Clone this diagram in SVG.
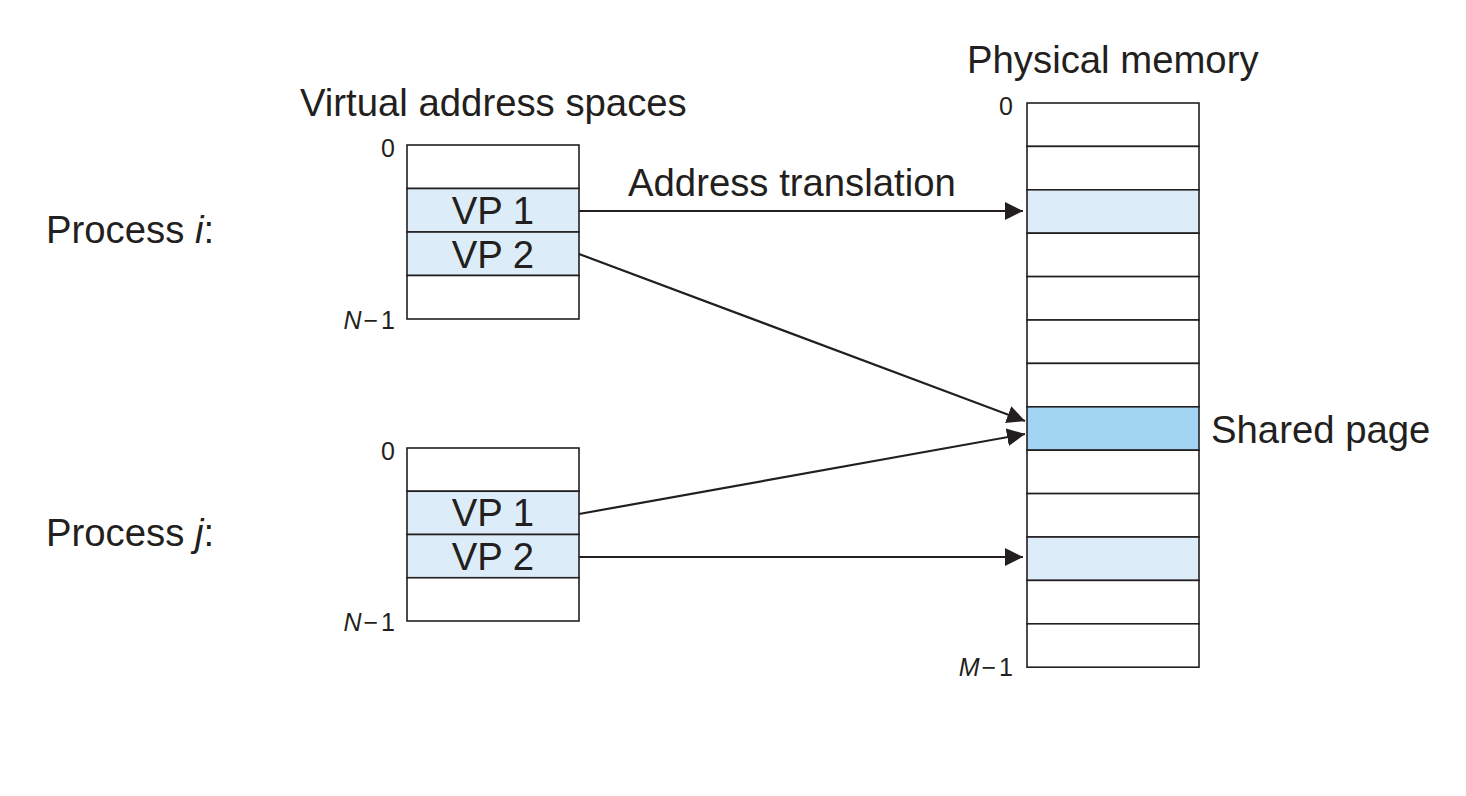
<svg xmlns="http://www.w3.org/2000/svg" width="1466" height="796" viewBox="0 0 1466 796">
<style>
text{font-family:"Liberation Sans",Arial,sans-serif;fill:#231f20}
.big{font-size:38.3px}
.sm{font-size:25px}
.cell{fill:#ffffff;stroke:#231f20;stroke-width:1.6}
.lb{fill:#dcedf9}
.sh{fill:#a2d5f2}
.arr{stroke:#231f20;stroke-width:2.2;fill:none;marker-end:url(#ah)}
</style>
<defs>
<marker id="ah" markerUnits="userSpaceOnUse" markerWidth="20" markerHeight="20" refX="18" refY="9" orient="auto">
<path d="M0,0 L18,9 L0,18 Z" fill="#231f20"/>
</marker>
</defs>
<rect width="1466" height="796" fill="#ffffff"/>
<text class="big" x="300" y="116">Virtual address spaces</text>
<text class="big" x="967" y="73">Physical memory</text>
<text class="big" x="628" y="196">Address translation</text>
<text class="big" x="1211" y="443">Shared page</text>
<text class="big" x="46" y="243">Process <tspan font-style="italic">i</tspan>:</text>
<text class="big" x="46" y="546">Process <tspan font-style="italic">j</tspan>:</text>

<g id="vas-i">
<rect class="cell" x="407" y="145" width="172" height="43.5"/>
<rect class="cell lb" x="407" y="188.5" width="172" height="43.5"/>
<rect class="cell lb" x="407" y="232" width="172" height="43.5"/>
<rect class="cell" x="407" y="275.5" width="172" height="43.5"/>
<text class="big" x="493" y="224" text-anchor="middle">VP 1</text>
<text class="big" x="493" y="268" text-anchor="middle">VP 2</text>
<text class="sm" x="395" y="157" text-anchor="end">0</text>
<text class="sm" x="395" y="329" text-anchor="end"><tspan font-style="italic">N</tspan><tspan dx="2">−</tspan><tspan dx="3">1</tspan></text>
</g>

<g id="vas-j">
<rect class="cell" x="407" y="448" width="172" height="43.25"/>
<rect class="cell lb" x="407" y="491.25" width="172" height="43.25"/>
<rect class="cell lb" x="407" y="534.5" width="172" height="43.25"/>
<rect class="cell" x="407" y="577.75" width="172" height="43.25"/>
<text class="big" x="493" y="526" text-anchor="middle">VP 1</text>
<text class="big" x="493" y="570" text-anchor="middle">VP 2</text>
<text class="sm" x="395" y="460" text-anchor="end">0</text>
<text class="sm" x="395" y="631" text-anchor="end"><tspan font-style="italic">N</tspan><tspan dx="2">−</tspan><tspan dx="3">1</tspan></text>
</g>

<g id="phys">
<rect class="cell" x="1027" y="103" width="172" height="43.4"/>
<rect class="cell" x="1027" y="146.4" width="172" height="43.4"/>
<rect class="cell lb" x="1027" y="189.8" width="172" height="43.4"/>
<rect class="cell" x="1027" y="233.2" width="172" height="43.4"/>
<rect class="cell" x="1027" y="276.6" width="172" height="43.4"/>
<rect class="cell" x="1027" y="320" width="172" height="43.4"/>
<rect class="cell" x="1027" y="363.4" width="172" height="43.4"/>
<rect class="cell sh" x="1027" y="406.8" width="172" height="43.4"/>
<rect class="cell" x="1027" y="450.2" width="172" height="43.4"/>
<rect class="cell" x="1027" y="493.6" width="172" height="43.4"/>
<rect class="cell lb" x="1027" y="537" width="172" height="43.4"/>
<rect class="cell" x="1027" y="580.4" width="172" height="43.4"/>
<rect class="cell" x="1027" y="623.8" width="172" height="43.4"/>
<text class="sm" x="1013" y="115" text-anchor="end">0</text>
<text class="sm" x="1013" y="676" text-anchor="end"><tspan font-style="italic">M</tspan><tspan dx="2">−</tspan><tspan dx="3">1</tspan></text>
</g>

<g id="connectors">
<line class="arr" x1="579" y1="211" x2="1023" y2="211"/>
<line class="arr" x1="579" y1="254" x2="1025" y2="421"/>
<line class="arr" x1="579" y1="514" x2="1025" y2="434"/>
<line class="arr" x1="579" y1="557" x2="1023" y2="557"/>
</g>
</svg>
